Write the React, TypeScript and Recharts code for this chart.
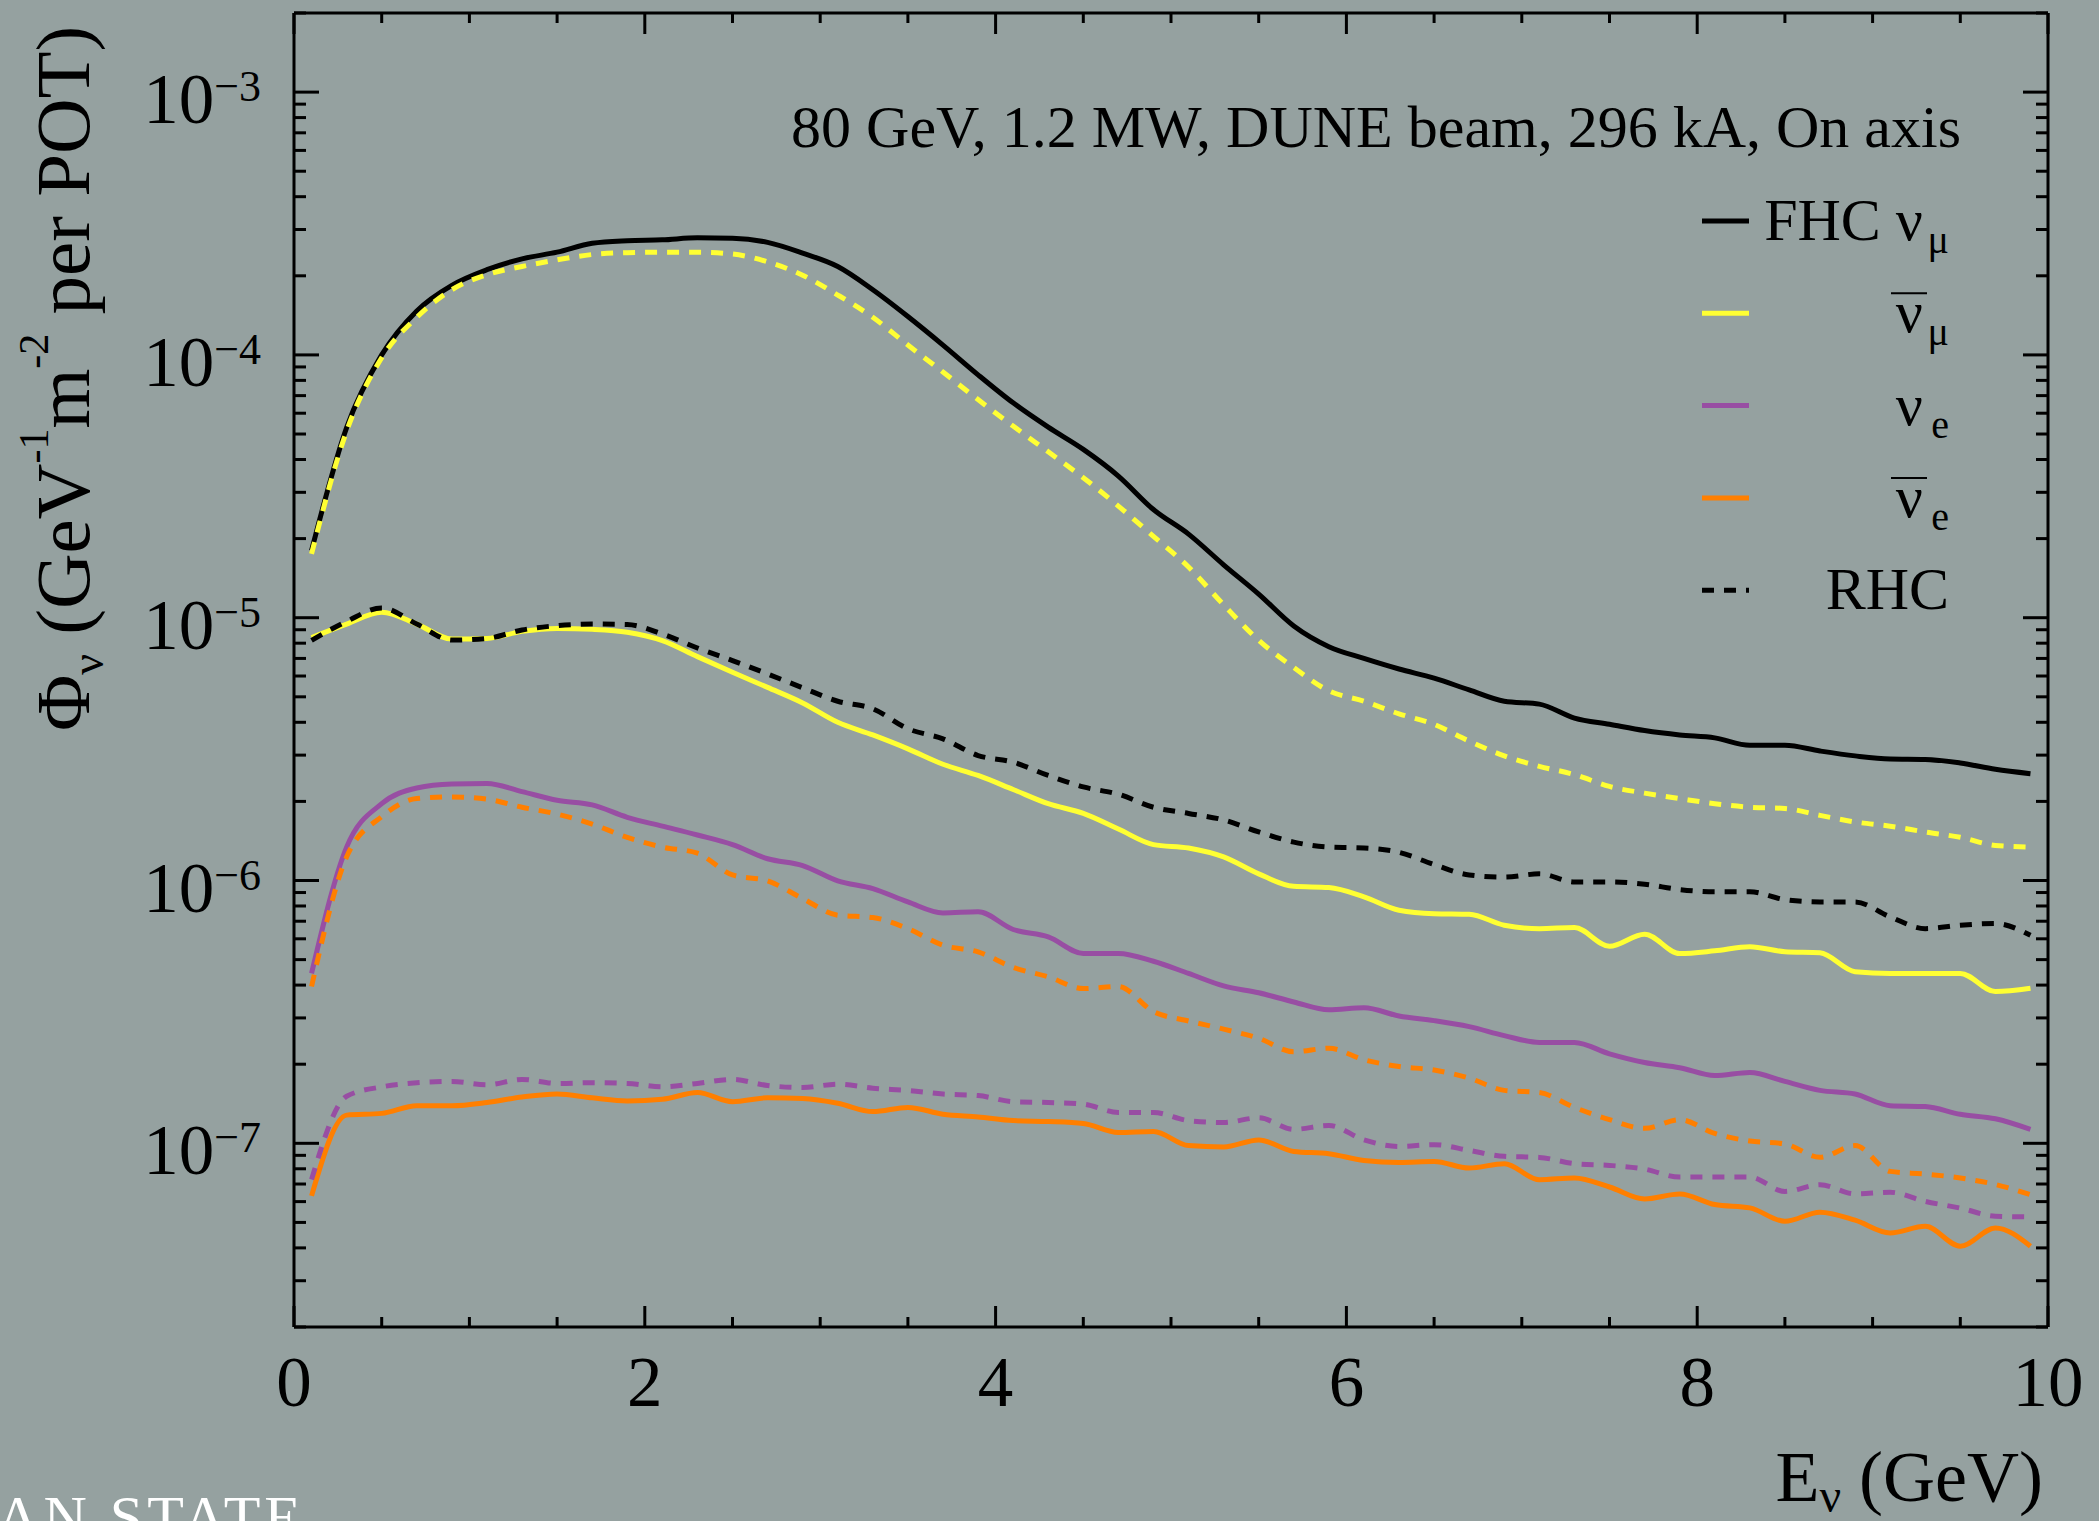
import React from 'react';
import { LineChart, Line, XAxis, YAxis, ReferenceLine } from 'recharts';

// ---- layout constants ----
const W = 2099;
const H = 1521;
const PLOT_L = 294;
const PLOT_R = 2048;
const PLOT_T = 13;
const PLOT_B = 1327;
const BG = '#95a1a0';
const FONT = '"Liberation Serif", "Times New Roman", serif';

// ---- data ----
const ENERGY = [
  0.1, 0.3, 0.5, 0.7, 0.9, 1.1, 1.3, 1.5, 1.7, 1.9,
  2.1, 2.3, 2.5, 2.7, 2.9, 3.1, 3.3, 3.5, 3.7, 3.9,
  4.1, 4.3, 4.5, 4.7, 4.9, 5.1, 5.3, 5.5, 5.7, 5.9,
  6.1, 6.3, 6.5, 6.7, 6.9, 7.1, 7.3, 7.5, 7.7, 7.9,
  8.1, 8.3, 8.5, 8.7, 8.9, 9.1, 9.3, 9.5, 9.7, 9.9,
];

const FHC_NUMU = [
  1.80e-5, 5.29e-5, 1.00e-4, 1.47e-4, 1.84e-4, 2.11e-4, 2.32e-4, 2.46e-4, 2.66e-4, 2.72e-4,
  2.74e-4, 2.79e-4, 2.78e-4, 2.68e-4, 2.44e-4, 2.17e-4, 1.77e-4, 1.40e-4, 1.09e-4, 8.4e-5,
  6.57e-5, 5.31e-5, 4.37e-5, 3.46e-5, 2.58e-5, 2.08e-5, 1.59e-5, 1.23e-5, 9.3e-6, 7.76e-6,
  7.0e-6, 6.38e-6, 5.89e-6, 5.31e-6, 4.81e-6, 4.69e-6, 4.15e-6, 3.93e-6, 3.72e-6, 3.58e-6,
  3.49e-6, 3.27e-6, 3.27e-6, 3.11e-6, 2.98e-6, 2.90e-6, 2.89e-6, 2.80e-6, 2.65e-6, 2.55e-6,
];

const FHC_NUMUBAR = [
  8.41e-6, 9.46e-6, 1.05e-5, 9.46e-6, 8.3e-6, 8.34e-6, 8.87e-6, 9.1e-6, 9.03e-6, 8.8e-6,
  8.18e-6, 7.11e-6, 6.2e-6, 5.43e-6, 4.74e-6, 4.0e-6, 3.58e-6, 3.17e-6, 2.77e-6, 2.51e-6,
  2.22e-6, 1.96e-6, 1.80e-6, 1.57e-6, 1.37e-6, 1.33e-6, 1.23e-6, 1.06e-6, 9.5e-7, 9.4e-7,
  8.67e-7, 7.71e-7, 7.48e-7, 7.44e-7, 6.76e-7, 6.56e-7, 6.62e-7, 5.62e-7, 6.25e-7, 5.27e-7,
  5.4e-7, 5.6e-7, 5.36e-7, 5.31e-7, 4.5e-7, 4.43e-7, 4.43e-7, 4.43e-7, 3.78e-7, 3.89e-7,
];

const FHC_NUE = [
  4.43e-7, 1.34e-6, 1.96e-6, 2.25e-6, 2.33e-6, 2.34e-6, 2.18e-6, 2.02e-6, 1.94e-6, 1.74e-6,
  1.61e-6, 1.49e-6, 1.37e-6, 1.21e-6, 1.14e-6, 9.97e-7, 9.32e-7, 8.29e-7, 7.53e-7, 7.6e-7,
  6.51e-7, 6.1e-7, 5.28e-7, 5.28e-7, 4.93e-7, 4.43e-7, 3.97e-7, 3.74e-7, 3.45e-7, 3.22e-7,
  3.28e-7, 3.05e-7, 2.93e-7, 2.78e-7, 2.57e-7, 2.42e-7, 2.42e-7, 2.19e-7, 2.03e-7, 1.94e-7,
  1.81e-7, 1.86e-7, 1.72e-7, 1.59e-7, 1.54e-7, 1.39e-7, 1.38e-7, 1.29e-7, 1.24e-7, 1.13e-7,
];

const FHC_NUEBAR = [
  6.31e-8, 1.28e-7, 1.30e-7, 1.39e-7, 1.39e-7, 1.43e-7, 1.50e-7, 1.54e-7, 1.49e-7, 1.45e-7,
  1.47e-7, 1.56e-7, 1.44e-7, 1.49e-7, 1.48e-7, 1.42e-7, 1.32e-7, 1.37e-7, 1.29e-7, 1.26e-7,
  1.22e-7, 1.21e-7, 1.19e-7, 1.10e-7, 1.11e-7, 9.8e-8, 9.68e-8, 1.03e-7, 9.31e-8, 9.13e-8,
  8.61e-8, 8.46e-8, 8.53e-8, 8.05e-8, 8.36e-8, 7.27e-8, 7.38e-8, 6.82e-8, 6.14e-8, 6.41e-8,
  5.85e-8, 5.68e-8, 5.05e-8, 5.47e-8, 5.1e-8, 4.56e-8, 4.83e-8, 4.06e-8, 4.76e-8, 4.06e-8,
];

const RHC_NUMU = [
  8.2e-6, 9.68e-6, 1.09e-5, 9.46e-6, 8.22e-6, 8.34e-6, 8.98e-6, 9.33e-6, 9.46e-6, 9.42e-6,
  8.67e-6, 7.67e-6, 6.87e-6, 6.11e-6, 5.41e-6, 4.81e-6, 4.5e-6, 3.78e-6, 3.46e-6, 2.99e-6,
  2.82e-6, 2.51e-6, 2.27e-6, 2.13e-6, 1.90e-6, 1.80e-6, 1.70e-6, 1.53e-6, 1.40e-6, 1.34e-6,
  1.33e-6, 1.28e-6, 1.15e-6, 1.05e-6, 1.03e-6, 1.06e-6, 9.88e-7, 9.88e-7, 9.68e-7, 9.24e-7,
  9.06e-7, 9.06e-7, 8.46e-7, 8.29e-7, 8.29e-7, 7.27e-7, 6.56e-7, 6.76e-7, 6.86e-7, 6.19e-7,
];

const RHC_NUMUBAR = [
  1.75e-5, 5.13e-5, 9.75e-5, 1.39e-4, 1.77e-4, 2.02e-4, 2.17e-4, 2.30e-4, 2.41e-4, 2.45e-4,
  2.46e-4, 2.46e-4, 2.42e-4, 2.26e-4, 2.01e-4, 1.69e-4, 1.39e-4, 1.09e-4, 8.61e-5, 6.76e-5,
  5.36e-5, 4.28e-5, 3.41e-5, 2.66e-5, 2.04e-5, 1.56e-5, 1.12e-5, 8.2e-6, 6.46e-6, 5.27e-6,
  4.81e-6, 4.31e-6, 3.93e-6, 3.39e-6, 2.98e-6, 2.72e-6, 2.53e-6, 2.28e-6, 2.15e-6, 2.05e-6,
  1.96e-6, 1.90e-6, 1.88e-6, 1.77e-6, 1.67e-6, 1.61e-6, 1.53e-6, 1.46e-6, 1.36e-6, 1.34e-6,
];

const RHC_NUE = [
  7.28e-8, 1.51e-7, 1.64e-7, 1.70e-7, 1.72e-7, 1.67e-7, 1.75e-7, 1.69e-7, 1.70e-7, 1.69e-7,
  1.64e-7, 1.69e-7, 1.75e-7, 1.66e-7, 1.63e-7, 1.68e-7, 1.62e-7, 1.59e-7, 1.54e-7, 1.52e-7,
  1.44e-7, 1.43e-7, 1.41e-7, 1.31e-7, 1.31e-7, 1.22e-7, 1.20e-7, 1.25e-7, 1.13e-7, 1.17e-7,
  1.03e-7, 9.73e-8, 9.88e-8, 9.4e-8, 8.92e-8, 8.84e-8, 8.37e-8, 8.24e-8, 7.98e-8, 7.44e-8,
  7.44e-8, 7.44e-8, 6.56e-8, 6.96e-8, 6.42e-8, 6.51e-8, 6.01e-8, 5.67e-8, 5.28e-8, 5.25e-8,
];

const RHC_NUEBAR = [
  3.95e-7, 1.23e-6, 1.75e-6, 2.05e-6, 2.08e-6, 2.04e-6, 1.90e-6, 1.79e-6, 1.64e-6, 1.46e-6,
  1.34e-6, 1.27e-6, 1.05e-6, 9.97e-7, 8.54e-7, 7.38e-7, 7.23e-7, 6.56e-7, 5.67e-7, 5.35e-7,
  4.67e-7, 4.3e-7, 3.88e-7, 3.95e-7, 3.17e-7, 2.92e-7, 2.72e-7, 2.51e-7, 2.23e-7, 2.30e-7,
  2.08e-7, 1.96e-7, 1.90e-7, 1.77e-7, 1.59e-7, 1.56e-7, 1.37e-7, 1.23e-7, 1.14e-7, 1.23e-7,
  1.09e-7, 1.02e-7, 9.94e-8, 8.85e-8, 9.8e-8, 7.82e-8, 7.64e-8, 7.38e-8, 6.97e-8, 6.38e-8,
];

// ---- axes ----
const X_DOMAIN = [0, 10];
const X_TICKS = [0, 0.5, 1, 1.5, 2, 2.5, 3, 3.5, 4, 4.5, 5, 5.5, 6, 6.5, 7, 7.5, 8, 8.5, 9, 9.5, 10];
const X_LABELED = [0, 2, 4, 6, 8, 10];
const Y_DOMAIN = [2e-8, 2e-3];
const Y_DECADES = [1e-8, 1e-7, 1e-6, 1e-5, 1e-4, 1e-3];
const Y_MULTIPLIERS = [1, 2, 3, 4, 5, 6, 7, 8, 9];
const Y_TICKS = Y_DECADES.flatMap((d) => Y_MULTIPLIERS.map((m) => Number((m * d).toPrecision(3)))).filter(
  (v) => v >= Y_DOMAIN[0] && v <= Y_DOMAIN[1]
);

const TITLE = '80 GeV, 1.2 MW, DUNE beam, 296 kA, On axis';

const COLORS = {
  numu: '#000000',
  numubar: '#ffff33',
  nue: '#984ea3',
  nuebar: '#ff7f00',
};

// legend: main label, subscript, overline on the nu, colour, dashed
const LEGEND_MAIN = ['FHC ν', 'ν', 'ν', 'ν', 'RHC'];
const LEGEND_SUB = ['μ', 'μ', 'e', 'e', ''];
const LEGEND_BAR = [false, true, false, true, false];
const LEGEND_COLOR = [COLORS.numu, COLORS.numubar, COLORS.nue, COLORS.nuebar, COLORS.numu];
const LEGEND_DASHED = [false, false, false, false, true];

const data = ENERGY.map((e, i) => ({
  E: e,
  fhcNumu: FHC_NUMU[i],
  fhcNumubar: FHC_NUMUBAR[i],
  fhcNue: FHC_NUE[i],
  fhcNuebar: FHC_NUEBAR[i],
  rhcNumu: RHC_NUMU[i],
  rhcNumubar: RHC_NUMUBAR[i],
  rhcNue: RHC_NUE[i],
  rhcNuebar: RHC_NUEBAR[i],
}));

const SERIES = [
  { key: 'fhcNumu', color: COLORS.numu, dashed: false },
  { key: 'fhcNumubar', color: COLORS.numubar, dashed: false },
  { key: 'fhcNue', color: COLORS.nue, dashed: false },
  { key: 'fhcNuebar', color: COLORS.nuebar, dashed: false },
  { key: 'rhcNumu', color: COLORS.numu, dashed: true },
  { key: 'rhcNumubar', color: COLORS.numubar, dashed: true },
  { key: 'rhcNue', color: COLORS.nue, dashed: true },
  { key: 'rhcNuebar', color: COLORS.nuebar, dashed: true },
];

const LINE_W = 5;
const DASH = '12 10';

const YTick = (props: any) => {
  const { y, payload } = props;
  const v = payload.value as number;
  const exp = Math.log10(v);
  const rexp = Math.round(exp);
  const isMajor = Math.abs(exp - rexp) < 1e-6;
  const len = isMajor ? 25 : 12;
  return (
    <g>
      <line x1={PLOT_L} x2={PLOT_L + len} y1={y} y2={y} stroke="#000" strokeWidth={3} />
      <line x1={PLOT_R - len} x2={PLOT_R} y1={y} y2={y} stroke="#000" strokeWidth={3} />
      {isMajor && (
        <text x={PLOT_L - 33} y={y + 31} textAnchor="end" fontFamily={FONT} fontSize={71} fill="#000">
          10
          <tspan dy={-22} fontSize={44}>
            {'\u2212' + Math.abs(rexp)}
          </tspan>
        </text>
      )}
    </g>
  );
};

const XTick = (props: any) => {
  const { x, payload } = props;
  const v = payload.value as number;
  const isMajor = X_LABELED.includes(v);
  const len = isMajor ? 21 : 10;
  return (
    <g>
      <line x1={x} x2={x} y1={PLOT_B} y2={PLOT_B - len} stroke="#000" strokeWidth={3} />
      <line x1={x} x2={x} y1={PLOT_T} y2={PLOT_T + len} stroke="#000" strokeWidth={3} />
      {isMajor && (
        <text x={x} y={PLOT_B + 79} textAnchor="middle" fontFamily={FONT} fontSize={71} fill="#000">
          {v}
        </text>
      )}
    </g>
  );
};

const LEGEND_X1 = 1702;
const LEGEND_X2 = 1749;
const LEGEND_MAIN_END = 1923;
const LEGEND_TEXT_END = 1949;
const LEGEND_Y0 = 221;
const LEGEND_DY = 92.3;

const Overlay = () => {
  return (
    <svg
      width={W}
      height={H}
      style={{ position: 'absolute', left: 0, top: 0, pointerEvents: 'none' }}
      fontFamily={FONT}
    >
      <text x={1961} y={147} textAnchor="end" fontSize={60} fill="#000">
        {TITLE}
      </text>
      {LEGEND_MAIN.map((label, i) => {
        const cy = LEGEND_Y0 + i * LEGEND_DY;
        const base = cy + 19;
        const hasSub = LEGEND_SUB[i] !== '';
        return (
          <g key={i}>
            <line
              x1={LEGEND_X1}
              x2={LEGEND_X2}
              y1={cy}
              y2={cy}
              stroke={LEGEND_COLOR[i]}
              strokeWidth={LINE_W}
              strokeDasharray={LEGEND_DASHED[i] ? DASH : undefined}
            />
            <text x={hasSub ? LEGEND_MAIN_END : LEGEND_TEXT_END} y={base} textAnchor="end" fontSize={60} fill="#000">
              {label}
            </text>
            {hasSub && (
              <text x={LEGEND_TEXT_END} y={base + 13} textAnchor="end" fontSize={40} fill="#000">
                {LEGEND_SUB[i]}
              </text>
            )}
            {LEGEND_BAR[i] && (
              <line
                x1={LEGEND_MAIN_END - 32}
                x2={LEGEND_MAIN_END + 4}
                y1={base - 39}
                y2={base - 39}
                stroke="#000"
                strokeWidth={2}
              />
            )}
          </g>
        );
      })}
      <text transform="translate(89, 731) rotate(-90)" textAnchor="start" fontSize={77} fill="#000">
        Φ
        <tspan dy={14} fontSize={46}>
          ν
        </tspan>
        <tspan dy={-14}> (GeV</tspan>
        <tspan dy={-41} fontSize={42}>
          -1
        </tspan>
        <tspan dy={41}>m</tspan>
        <tspan dy={-41} fontSize={42}>
          -2
        </tspan>
        <tspan dy={41}> per POT)</tspan>
      </text>
      <text x={2043} y={1501} textAnchor="end" fontSize={72} fill="#000">
        E
        <tspan dy={11} fontSize={48}>
          ν
        </tspan>
        <tspan dy={-11}> (GeV)</tspan>
      </text>
      <text x={305} y={1537} textAnchor="end" fontSize={60} letterSpacing={4} fill="#ffffff">
        AN STATE
      </text>
    </svg>
  );
};

export default function App() {
  return (
    <div style={{ position: 'absolute', left: 0, top: 0, width: W, height: H, background: BG, overflow: 'hidden' }}>
      <LineChart width={W} height={H} data={data} margin={{ top: PLOT_T, right: W - PLOT_R, bottom: 0, left: 0 }}>
        <XAxis
          dataKey="E"
          type="number"
          domain={X_DOMAIN}
          ticks={X_TICKS}
          interval={0}
          height={H - PLOT_B}
          tickSize={0}
          tickMargin={0}
          tick={<XTick />}
          axisLine={{ stroke: '#000', strokeWidth: 3 }}
          tickLine={false}
          allowDataOverflow
        />
        <YAxis
          type="number"
          scale="log"
          domain={Y_DOMAIN}
          ticks={Y_TICKS}
          interval={0}
          width={PLOT_L}
          tickSize={0}
          tickMargin={0}
          tick={<YTick />}
          axisLine={{ stroke: '#000', strokeWidth: 3 }}
          tickLine={false}
          allowDataOverflow
        />
        <ReferenceLine x={X_DOMAIN[1]} stroke="#000" strokeWidth={3} />
        <ReferenceLine y={Y_DOMAIN[1]} stroke="#000" strokeWidth={3} />
        {SERIES.map((s) => (
          <Line
            key={s.key}
            dataKey={s.key}
            type="monotone"
            stroke={s.color}
            strokeWidth={LINE_W}
            strokeDasharray={s.dashed ? DASH : undefined}
            dot={false}
            activeDot={false}
            isAnimationActive={false}
          />
        ))}
      </LineChart>
      <Overlay />
    </div>
  );
}
